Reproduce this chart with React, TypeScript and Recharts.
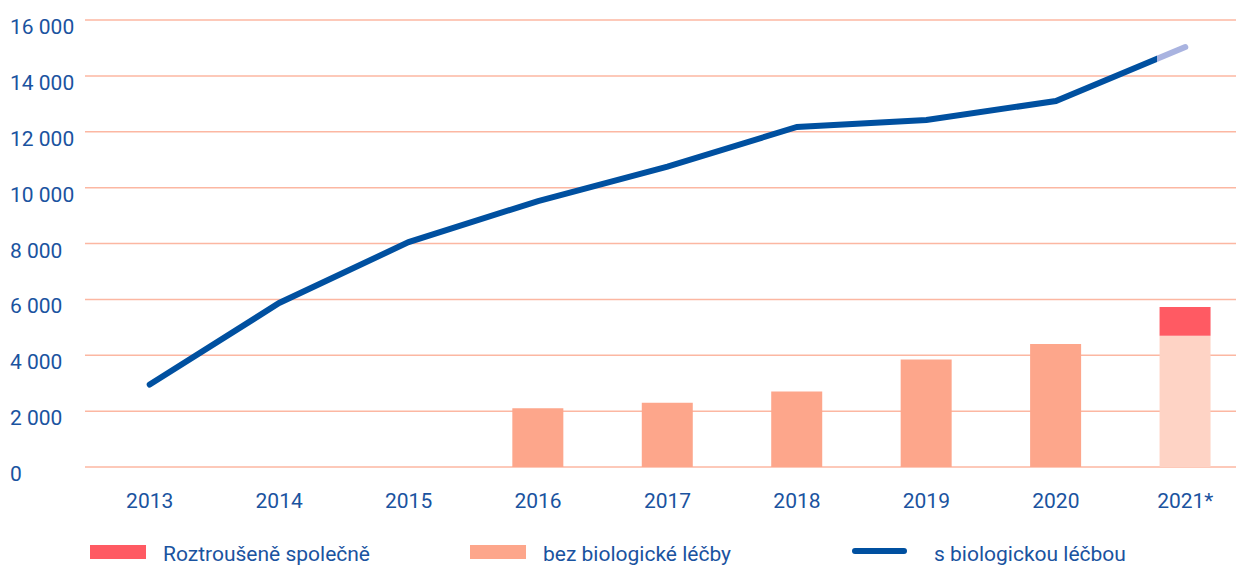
import { ComposedChart, Bar, Line, XAxis, YAxis, CartesianGrid, Cell } from "recharts";

const years = ["2013", "2014", "2015", "2016", "2017", "2018", "2019", "2020", "2021*"];
const withBio = [2950, 5870, 8050, 9520, 10750, 12170, 12420, 13100, 15030];
const withoutBio = [null, null, null, 2100, 2300, 2700, 3850, 4400, 4700];
const together = [null, null, null, null, null, null, null, null, 1030];
const yTicks = [0, 2000, 4000, 6000, 8000, 10000, 12000, 14000, 16000];

const data = years.map((year, i) => ({
  year,
  withBio: withBio[i],
  withoutBio: withoutBio[i],
  together: together[i],
}));

const FONT = "Roboto, 'Noto Sans', sans-serif";
const TEXT = "#1a53a0";
const BLUE = "#0050a0";
const LIGHT_BLUE = "#a9b3e0";
const SALMON = "#fda68b";
const PALE = "#fed3c5";
const RED = "#ff5a63";
const GRID = "#fcb7a2";

const fmt = (v: number) => (v === 0 ? "0" : `${Math.floor(v / 1000)} ${String(v % 1000).padStart(3, "0")}`);

function YTick({ y, payload }: any) {
  return (
    <text x={10} y={y} dy={14} textAnchor="start" fill={TEXT} fontSize={21} fontFamily={FONT}>
      {fmt(payload.value)}
    </text>
  );
}

function LegendItem({ left, color, line, label }: { left: number; color: string; line?: boolean; label: string }) {
  return (
    <>
      <div
        style={{
          position: "absolute",
          left,
          top: line ? 548 : 545,
          width: line ? 55 : 56,
          height: line ? 6 : 14,
          borderRadius: line ? 3 : 0,
          background: color,
        }}
      />
      <div
        style={{
          position: "absolute",
          left: left + (line ? 82 : 73),
          top: 540,
          fontSize: 21,
          lineHeight: "28px",
          color: TEXT,
          fontFamily: FONT,
          whiteSpace: "nowrap",
        }}
      >
        {label}
      </div>
    </>
  );
}

export default function App() {
  return (
    <div style={{ position: "absolute", left: 0, top: 0, width: 1236, height: 568, overflow: "hidden", background: "#fff" }}>
      <ComposedChart width={1250} height={530} data={data} margin={{ top: 20, right: 0, bottom: 0, left: 0 }}>
        <defs>
          <linearGradient id="lineGrad" x1="0" y1="0" x2="1" y2="0">
            <stop offset="0.973" stopColor={BLUE} />
            <stop offset="0.973" stopColor={LIGHT_BLUE} />
          </linearGradient>
        </defs>
        <CartesianGrid vertical={false} stroke={GRID} strokeWidth={1.5} />
        <XAxis
          dataKey="year"
          axisLine={false}
          tickLine={false}
          height={63}
          tickMargin={20}
          tick={{ fill: TEXT, fontSize: 21, fontFamily: FONT }}
        />
        <YAxis
          domain={[0, 16000]}
          ticks={yTicks}
          width={85}
          axisLine={false}
          tickLine={false}
          tick={<YTick />}
          interval={0}
        />
        <Bar dataKey="withoutBio" stackId="a" barSize={51} fill={SALMON} isAnimationActive={false}>
          {data.map((d, i) => (
            <Cell key={d.year} fill={i === data.length - 1 ? PALE : SALMON} />
          ))}
        </Bar>
        <Bar dataKey="together" stackId="a" barSize={51} fill={RED} isAnimationActive={false} />
        <Line
          dataKey="withBio"
          type="linear"
          stroke="url(#lineGrad)"
          strokeWidth={6}
          strokeLinecap="round"
          dot={false}
          activeDot={false}
          isAnimationActive={false}
        />
      </ComposedChart>
      <LegendItem left={90} color={RED} label="Roztroušeně společně" />
      <LegendItem left={470} color={SALMON} label="bez biologické léčby" />
      <LegendItem left={852} color={BLUE} line label="s biologickou léčbou" />
    </div>
  );
}
